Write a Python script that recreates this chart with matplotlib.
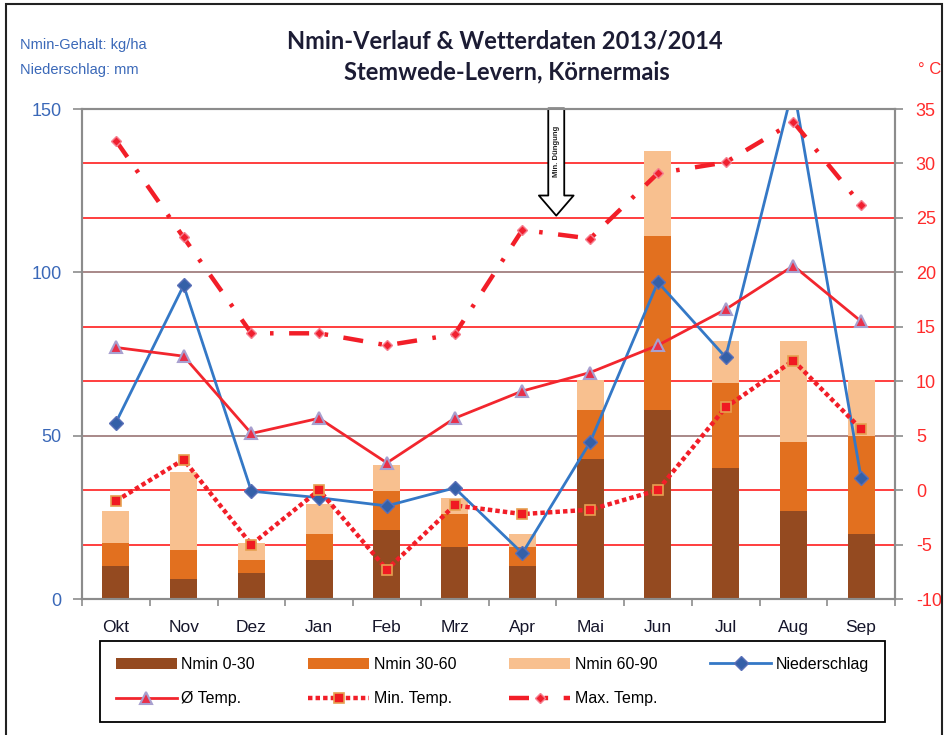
import numpy as np
import matplotlib
matplotlib.use('Agg')
import matplotlib.pyplot as plt
from matplotlib.patches import Rectangle, FancyArrowPatch

plt.rcParams['axes.unicode_minus'] = False

months = ['Okt', 'Nov', 'Dez', 'Jan', 'Feb', 'Mrz', 'Apr', 'Mai', 'Jun', 'Jul', 'Aug', 'Sep']
nmin_0_30 = [10, 6, 8, 12, 21, 16, 10, 43, 58, 40, 27, 20]
nmin_30_60 = [7, 9, 4, 8, 12, 10, 6, 15, 53, 26, 21, 30]
nmin_60_90 = [10, 24, 5, 9, 8, 5, 4, 9, 26, 13, 31, 17]
niederschlag = [54, 96, 33, 31, 28.5, 34, 14, 48, 97, 74, 157, 37]
temp_avg = [13.1, 12.3, 5.2, 6.6, 2.5, 6.6, 9.1, 10.8, 13.3, 16.6, 20.6, 15.5]
temp_min = [-1.0, 2.8, -5.0, 0.0, -7.3, -1.4, -2.2, -1.8, 0.0, 7.6, 11.9, 5.6]
temp_max = [32.1, 23.2, 14.4, 14.4, 13.3, 14.3, 23.9, 23.1, 29.1, 30.1, 33.8, 26.2]
left_ticks = [0, 50, 100, 150]
right_ticks = [-10, -5, 0, 5, 10, 15, 20, 25, 30, 35]

NARROW = ['Liberation Sans Narrow', 'Liberation Sans', 'DejaVu Sans']
BLUE_TXT = '#3A68B8'
RED_TXT = '#FF2B2B'
GRAY = '#8C8C8C'

fig = plt.figure(figsize=(9.48, 7.35), dpi=100)
rect = [82 / 948, 1 - 599 / 735, (895 - 82) / 948, (599 - 109) / 735]

# background axes carrying the red temperature grid (behind the bars)
ax_bg = fig.add_axes(rect)
ax_bg.set_ylim(-10, 35)
ax_bg.set_xlim(0, 1)
ax_bg.set_yticks(right_ticks)
ax_bg.grid(axis='y', color='#FF1E1E', lw=1.2)
ax_bg.tick_params(left=False, labelleft=False, bottom=False, labelbottom=False)
for s in ax_bg.spines.values():
    s.set_visible(False)

ax1 = fig.add_axes(rect)
ax1.patch.set_visible(False)
x = np.arange(len(months))
w = 0.4
b1 = ax1.bar(x, nmin_0_30, w, color='#944A20', label='Nmin 0-30', zorder=2)
b2 = ax1.bar(x, nmin_30_60, w, bottom=nmin_0_30, color='#E2701F', label='Nmin 30-60', zorder=2)
bottom3 = np.array(nmin_0_30) + np.array(nmin_30_60)
b3 = ax1.bar(x, nmin_60_90, w, bottom=bottom3, color='#F8C08F', label='Nmin 60-90', zorder=2)
l_ns, = ax1.plot(x, niederschlag, color='#3478C6', lw=2, marker='D', ms=7,
                 mfc='#3560A8', mec='#5A70B8', label='Niederschlag', zorder=3)
ax1.set_ylim(0, 150)
ax1.set_xlim(-0.5, 11.5)
ax1.set_yticks(left_ticks)
ax1.set_yticklabels([str(t) for t in left_ticks], color=BLUE_TXT, fontsize=13,
                    family=['Liberation Sans', 'DejaVu Sans'])
ax1.grid(axis='y', color='#9A9A9A', lw=1.2)
ax1.set_axisbelow(True)
ax1.set_xticks(x)
ax1.set_xticklabels(months, fontsize=12.5, color='#15152A', family=NARROW)
ax1.set_xticks(np.arange(-0.5, 12, 1), minor=True)
ax1.tick_params(axis='x', which='major', length=0, pad=15)
ax1.tick_params(axis='x', which='minor', length=5, width=1.2, color=GRAY, direction='out')
ax1.tick_params(axis='y', length=6.5, width=1.2, color=GRAY, direction='out', pad=8)
for s in ax1.spines.values():
    s.set_color(GRAY)
    s.set_linewidth(1.5)

ax2 = ax1.twinx()
l_avg, = ax2.plot(x, temp_avg, color='#F2262E', lw=2, marker='^', ms=8,
                  mfc='#E8304A', mec='#A8A0D0', mew=1.5, label='Ø Temp.')
l_min, = ax2.plot(x, temp_min, color='#F21E28', lw=3.2, dashes=(1, 0.7), marker='s', ms=7,
                  mfc='#F01A22', mec='#E6A050', mew=1.2, label='Min. Temp.')
l_max, = ax2.plot(x, temp_max, color='#F21E28', lw=3.2, dashes=(4.5, 3.5, 0.8, 3.5), marker='D', ms=5,
                  mfc='#F02030', mec='#F58090', mew=1, label='Max. Temp.')
ax2.set_ylim(-10, 35)
ax2.set_yticks(right_ticks)
ax2.set_yticklabels([str(t) for t in right_ticks], color=RED_TXT, fontsize=13,
                    family=['Liberation Sans', 'DejaVu Sans'])
ax2.tick_params(axis='y', length=6, width=1.2, color=GRAY, direction='out', pad=9)
for s in ax2.spines.values():
    s.set_color(GRAY)
    s.set_linewidth(1.5)

# fertilisation arrow
arr = FancyArrowPatch((6.5, 151), (6.5, 116.5), transform=ax1.transData,
                      arrowstyle='simple,head_length=1.45,head_width=2.5,tail_width=1.15',
                      mutation_scale=10, fc='white', ec='black', lw=1.3, clip_on=False, zorder=6)
ax1.add_patch(arr)
ax1.text(6.5, 137, 'Min. Düngung', rotation=90, ha='center', va='center', fontsize=5.5,
         fontweight='bold', color='#202020', family=NARROW, zorder=7, clip_on=False)

# titles and unit notes
fig.text(505 / 948, 1 - 41 / 735, 'Nmin-Verlauf & Wetterdaten 2013/2014', ha='center', va='center',
         fontsize=17, fontweight='bold', color='#1C1C34', family=['Lato', 'DejaVu Sans'])
fig.text(507 / 948, 1 - 72 / 735, 'Stemwede-Levern, Körnermais', ha='center', va='center',
         fontsize=17, fontweight='bold', color='#1C1C34', family=['Lato', 'DejaVu Sans'])
fig.text(20 / 948, 1 - 45 / 735, 'Nmin-Gehalt: kg/ha', ha='left', va='center',
         fontsize=10.5, color=BLUE_TXT, family=NARROW)
fig.text(20 / 948, 1 - 70 / 735, 'Niederschlag: mm', ha='left', va='center',
         fontsize=10.5, color=BLUE_TXT, family=NARROW)
fig.text(930 / 948, 1 - 70 / 735, '° C', ha='center', va='center',
         fontsize=12, color=RED_TXT, family=['Liberation Sans', 'DejaVu Sans'])

# legend, filled row by row
handles = [b1, l_avg, b2, l_min, b3, l_max, l_ns]
labels = [h.get_label() for h in handles]
leg = fig.legend(handles, labels, ncol=4, loc='upper left',
                 bbox_to_anchor=(100 / 948, 1 - 641 / 735, 785 / 948, 0.0), mode='expand',
                 borderaxespad=0, frameon=True, fancybox=False, edgecolor='black', framealpha=1,
                 prop={'family': NARROW, 'size': 11.5}, handlelength=3.8, handletextpad=0.3,
                 labelspacing=1.2, borderpad=1.0, columnspacing=1.5)
leg.get_frame().set_linewidth(1.3)

# outer frame
fig.patches.append(Rectangle((0.006, -0.01), 0.988, 1.004, transform=fig.transFigure,
                             fill=False, ec='#222222', lw=1.5))

fig.savefig('out.png', dpi=100)
